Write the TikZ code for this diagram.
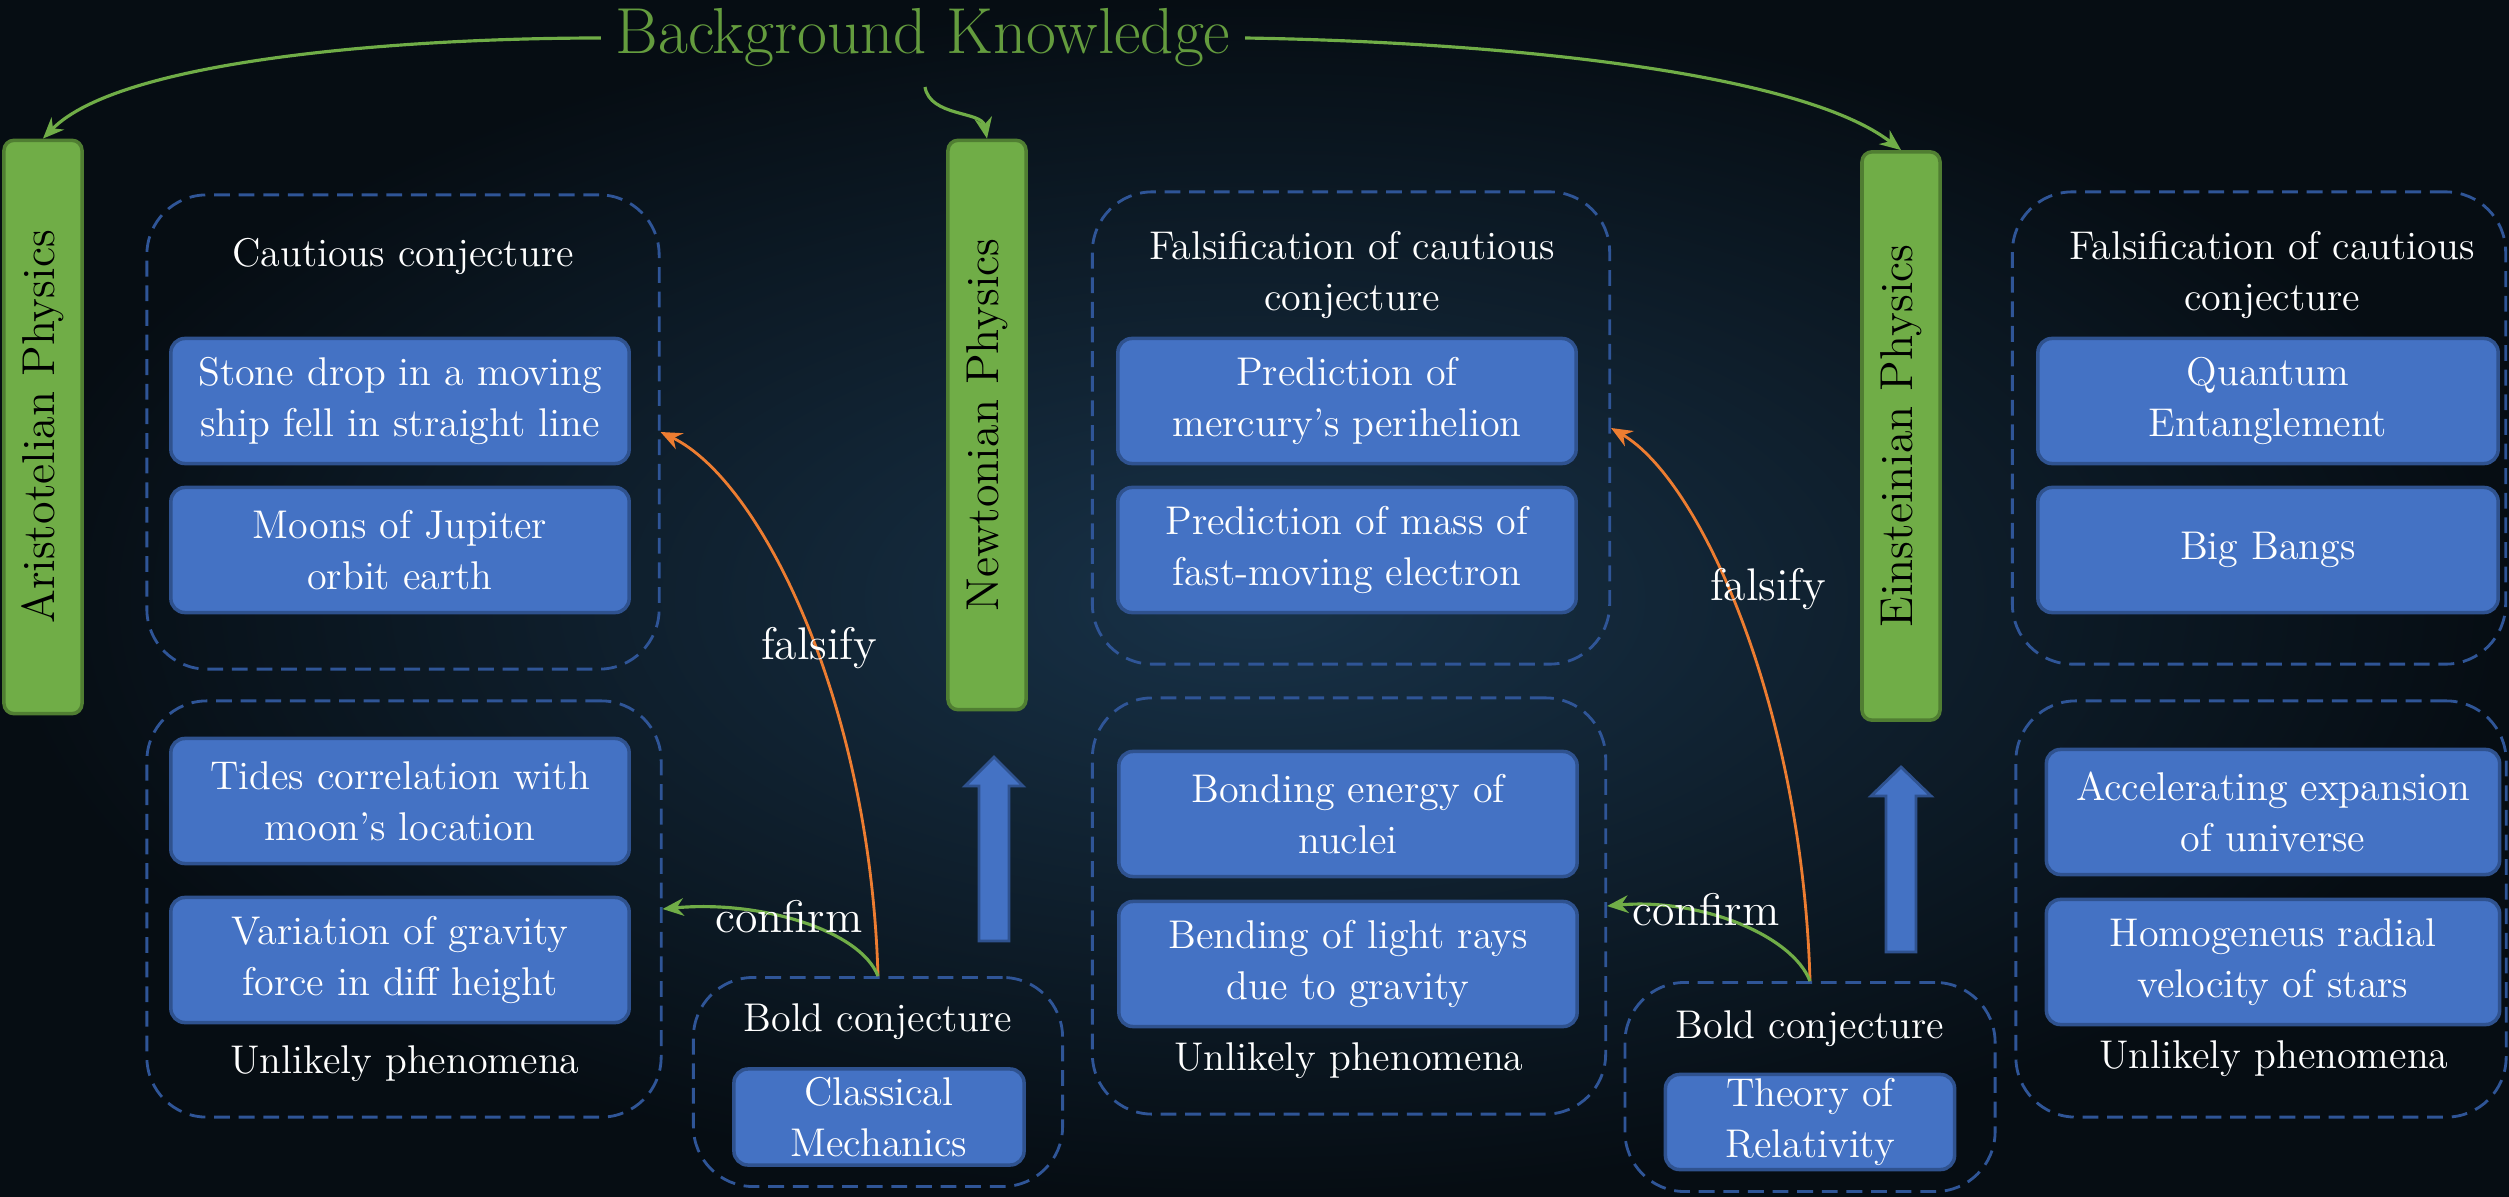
\documentclass[tikz,border=0pt]{standalone}
\usepackage{tikz}
\usetikzlibrary{positioning,arrows.meta}
\usepackage{xcolor}

\definecolor{bgin}{RGB}{24,50,72}
\definecolor{bgout}{RGB}{6,13,19}
\definecolor{boxblue}{RGB}{68,114,196}
\definecolor{boxedge}{RGB}{47,82,143}
\definecolor{dashblue}{RGB}{47,85,151}
\definecolor{barg}{RGB}{112,173,71}
\definecolor{baredge}{RGB}{80,126,50}
\definecolor{titleg}{RGB}{100,156,62}
\definecolor{arrorange}{RGB}{237,125,49}

\tikzset{
  idea/.style={draw=boxedge, fill=boxblue, line width=1pt, rounded corners=0.14cm, text=white, align=center,
    font=\fontsize{11.4}{14.5}\selectfont, minimum width=4.58cm, minimum height=1.25cm, inner sep=0pt},
  grp/.style={draw=dashblue, line width=0.8pt, dash pattern=on 4.5pt off 2.5pt, rounded corners=0.6cm, inner sep=0pt},
  lbl/.style={text=white, align=center, font=\fontsize{11.4}{14.5}\selectfont},
  arlbl/.style={text=white, font=\fontsize{13}{15}\selectfont},
  bar/.style={draw=baredge, fill=barg, line width=1pt, rounded corners=0.1cm, minimum width=0.78cm, inner sep=0pt},
  bartxt/.style={rotate=90, text=black, font=\fontsize{13.1}{15}\selectfont},
  greenarr/.style={draw=barg, line width=0.9pt, -{Stealth[length=6pt,width=5pt]}},
  orangearr/.style={draw=arrorange, line width=0.8pt, -{Stealth[length=6pt,width=5pt]}},
  blockarr/.style={fill=boxblue, draw=boxedge, line width=0.8pt}
}

\begin{document}
\begin{tikzpicture}[x=0.01cm, y=0.01cm]
    \useasboundingbox (0,0) rectangle (2509,-1197);
    \shade[inner color=bgin, outer color=bgout] (0,0) rectangle (2509,-1197);

    % title and bars
    \node[text=titleg, font=\fontsize{18.5}{22}\selectfont, inner sep=4pt] (bk) at (923,-38) {Background Knowledge};
    \coordinate (bkm) at (925,-87);

    \node[bar, minimum height=5.73cm] (ari) at (43,-427) {};
    \node[bartxt] (arit) at (ari) {Aristotelian Physics};
    \node[bar, minimum height=5.69cm] (new) at (987,-425) {};
    \node[bartxt] (newt) at (new) {Newtonian Physics};
    \node[bar, minimum height=5.68cm] (ein) at (1901,-436) {};
    \node[bartxt] (eint) at (ein) {Einsteinian Physics};

    % dashed groups
    \node[grp, minimum width=5.12cm, minimum height=4.74cm] (g1a) at (403,-432) {};
    \node[grp, minimum width=5.14cm, minimum height=4.16cm] (g1b) at (404,-909) {};
    \node[grp, minimum width=3.69cm, minimum height=2.09cm] (g2) at (878,-1082) {};
    \node[grp, minimum width=5.17cm, minimum height=4.72cm] (g3a) at (1351,-428) {};
    \node[grp, minimum width=5.13cm, minimum height=4.16cm] (g3b) at (1349,-906) {};
    \node[grp, minimum width=3.70cm, minimum height=2.09cm] (g4) at (1810,-1087) {};
    \node[grp, minimum width=4.93cm, minimum height=4.72cm] (g5a) at (2259,-428) {};
    \node[grp, minimum width=4.90cm, minimum height=4.16cm] (g5b) at (2261,-909) {};

    % column 1
    \node[lbl] (c1) at (403,-256) {Cautious conjecture};
    \node[idea] (b1) at (400,-401) {Stone drop in a moving\\ship fell in straight line};
    \node[idea] (b2) at (400,-550) {Moons of Jupiter\\orbit earth};
    \node[idea] (b3) at (400,-801) {Tides correlation with\\moon’s location};
    \node[idea] (b4) at (400,-960) {Variation of gravity\\force in diff height};
    \node[lbl] (u1) at (405,-1064) {Unlikely phenomena};

    % column 2
    \node[lbl] (bc1) at (878,-1022) {Bold conjecture};
    \node[idea, minimum width=2.90cm, minimum height=0.96cm] (cm) at (879,-1117) {Classical\\Mechanics};

    % column 3
    \node[lbl] (c3) at (1352,-275) {Falsification of cautious\\conjecture};
    \node[idea] (b5) at (1347,-401) {Prediction of\\mercury’s perihelion};
    \node[idea] (b6) at (1347,-550) {Prediction of mass of\\fast-moving electron};
    \node[idea] (b7) at (1348,-814) {Bonding energy of\\nuclei};
    \node[idea] (b8) at (1348,-964) {Bending of light rays\\due to gravity};
    \node[lbl] (u3) at (1349,-1061) {Unlikely phenomena};

    % column 4
    \node[lbl] (bc2) at (1810,-1029) {Bold conjecture};
    \node[idea, minimum width=2.89cm, minimum height=0.95cm] (tr) at (1810,-1122) {Theory of\\Relativity};

    % column 5
    \node[lbl] (c5) at (2272,-275) {Falsification of cautious\\conjecture};
    \node[idea, minimum width=4.60cm] (b9) at (2268,-401) {Quantum\\Entanglement};
    \node[idea, minimum width=4.60cm] (b10) at (2268,-550) {Big Bangs};
    \node[idea, minimum width=4.53cm] (b11) at (2273,-812) {Accelerating expansion\\of universe};
    \node[idea, minimum width=4.53cm] (b12) at (2273,-962) {Homogeneus radial\\velocity of stars};
    \node[lbl] (u5) at (2274,-1059) {Unlikely phenomena};

    % block arrows
    \draw[blockarr] (979,-941) -- (979,-786) -- (965,-786) -- (994,-757) -- (1023,-786) -- (1009,-786) -- (1009,-941) -- cycle;
    \draw[blockarr] (1886,-952) -- (1886,-796) -- (1871,-796) -- (1901,-767) -- (1931,-796) -- (1916,-796) -- (1916,-952) -- cycle;

    % connectors
    \draw[greenarr] (bk.west) .. controls (400,-38) and (120,-60) .. (ari.north);
    \draw[greenarr] (bk.east) .. controls (1500,-42) and (1800,-72) .. (ein.north);
    \draw[greenarr] (bkm) .. controls (930,-117) and (982,-111) .. (new.north);

    \draw[orangearr] (g2.north) .. controls (870,-700) and (760,-480) .. (g1a.east);
    \draw[greenarr] (g2.north) .. controls (860,-930) and (760,-900) .. (g1b.east);
    \draw[orangearr] (g4.north) .. controls (1802,-705) and (1700,-480) .. (g3a.east);
    \draw[greenarr] (g4.north) .. controls (1792,-935) and (1700,-898) .. (g3b.east);

    \node[arlbl] (fa1) at (819,-648) {falsify};
    \node[arlbl] (co1) at (789,-917) {confirm};
    \node[arlbl] (fa2) at (1768,-589) {falsify};
    \node[arlbl] (co2) at (1706,-910) {confirm};
\end{tikzpicture}
\end{document}
